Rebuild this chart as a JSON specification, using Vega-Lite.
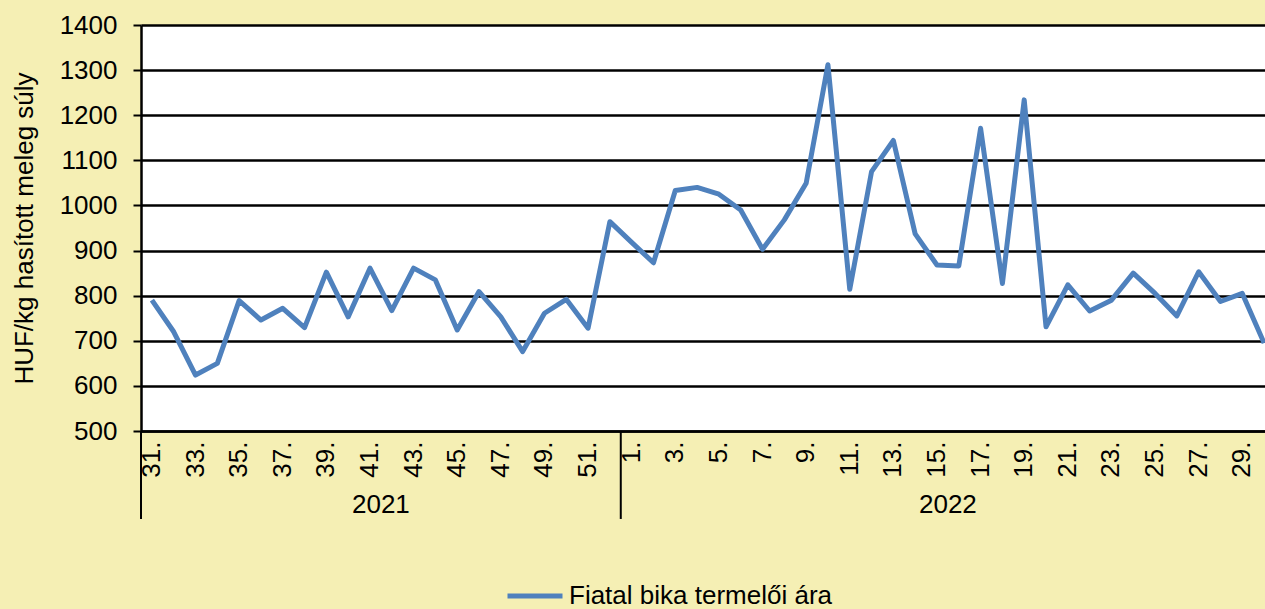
{
  "$schema": "https://vega.github.io/schema/vega-lite/v6.json",
  "width": 1134,
  "height": 406,
  "autosize": {"type": "none"},
  "padding": {"left": 141, "top": 25, "right": 0, "bottom": 178},
  "background": "#F5EFB4",
  "view": {"fill": "white", "stroke": null},
  "config": {
    "font": "Liberation Sans",
    "axis": {"labelFont": "Liberation Sans", "titleFont": "Liberation Sans", "labelColor": "black", "titleColor": "black"}
  },
  "layer": [
    {
      "data": {"values": [
        {"year": 2021, "week": 31, "key": "2021-31", "price": 790},
        {"year": 2021, "week": 32, "key": "2021-32", "price": 720},
        {"year": 2021, "week": 33, "key": "2021-33", "price": 624},
        {"year": 2021, "week": 34, "key": "2021-34", "price": 650},
        {"year": 2021, "week": 35, "key": "2021-35", "price": 789},
        {"year": 2021, "week": 36, "key": "2021-36", "price": 746},
        {"year": 2021, "week": 37, "key": "2021-37", "price": 772},
        {"year": 2021, "week": 38, "key": "2021-38", "price": 729},
        {"year": 2021, "week": 39, "key": "2021-39", "price": 852},
        {"year": 2021, "week": 40, "key": "2021-40", "price": 753},
        {"year": 2021, "week": 41, "key": "2021-41", "price": 861},
        {"year": 2021, "week": 42, "key": "2021-42", "price": 767},
        {"year": 2021, "week": 43, "key": "2021-43", "price": 861},
        {"year": 2021, "week": 44, "key": "2021-44", "price": 835},
        {"year": 2021, "week": 45, "key": "2021-45", "price": 724},
        {"year": 2021, "week": 46, "key": "2021-46", "price": 809},
        {"year": 2021, "week": 47, "key": "2021-47", "price": 753},
        {"year": 2021, "week": 48, "key": "2021-48", "price": 676},
        {"year": 2021, "week": 49, "key": "2021-49", "price": 761},
        {"year": 2021, "week": 50, "key": "2021-50", "price": 792},
        {"year": 2021, "week": 51, "key": "2021-51", "price": 728},
        {"year": 2021, "week": 52, "key": "2021-52", "price": 964},
        {"year": 2022, "week": 1, "key": "2022-01", "price": 918},
        {"year": 2022, "week": 2, "key": "2022-02", "price": 873},
        {"year": 2022, "week": 3, "key": "2022-03", "price": 1033},
        {"year": 2022, "week": 4, "key": "2022-04", "price": 1040},
        {"year": 2022, "week": 5, "key": "2022-05", "price": 1025},
        {"year": 2022, "week": 6, "key": "2022-06", "price": 990},
        {"year": 2022, "week": 7, "key": "2022-07", "price": 903},
        {"year": 2022, "week": 8, "key": "2022-08", "price": 968},
        {"year": 2022, "week": 9, "key": "2022-09", "price": 1049},
        {"year": 2022, "week": 10, "key": "2022-10", "price": 1312},
        {"year": 2022, "week": 11, "key": "2022-11", "price": 814},
        {"year": 2022, "week": 12, "key": "2022-12", "price": 1075},
        {"year": 2022, "week": 13, "key": "2022-13", "price": 1144},
        {"year": 2022, "week": 14, "key": "2022-14", "price": 937},
        {"year": 2022, "week": 15, "key": "2022-15", "price": 868},
        {"year": 2022, "week": 16, "key": "2022-16", "price": 866},
        {"year": 2022, "week": 17, "key": "2022-17", "price": 1171},
        {"year": 2022, "week": 18, "key": "2022-18", "price": 827},
        {"year": 2022, "week": 19, "key": "2022-19", "price": 1234},
        {"year": 2022, "week": 20, "key": "2022-20", "price": 731},
        {"year": 2022, "week": 21, "key": "2022-21", "price": 824},
        {"year": 2022, "week": 22, "key": "2022-22", "price": 766},
        {"year": 2022, "week": 23, "key": "2022-23", "price": 790},
        {"year": 2022, "week": 24, "key": "2022-24", "price": 850},
        {"year": 2022, "week": 25, "key": "2022-25", "price": 805},
        {"year": 2022, "week": 26, "key": "2022-26", "price": 755},
        {"year": 2022, "week": 27, "key": "2022-27", "price": 853},
        {"year": 2022, "week": 28, "key": "2022-28", "price": 787},
        {"year": 2022, "week": 29, "key": "2022-29", "price": 805},
        {"year": 2022, "week": 30, "key": "2022-30", "price": 695}
      ]},
      "mark": {"type": "line", "strokeWidth": 5, "strokeJoin": "round"},
      "encoding": {
        "x": {
          "field": "key", "type": "ordinal",
          "scale": {"type": "band", "paddingInner": 0, "paddingOuter": 0},
          "axis": {
            "title": null,
            "labelAngle": 270,
            "labelFontSize": 26,
            "labelOverlap": false,
            "labelExpr": "toNumber(slice(datum.value, 5)) % 2 === 1 ? toNumber(slice(datum.value, 5)) + '.' : ''",
            "labelPadding": 10,
            "ticks": false,
            "domainColor": "black",
            "domainWidth": 2.5,
            "grid": false
          }
        },
        "y": {
          "field": "price", "type": "quantitative",
          "scale": {"domain": [500, 1400], "zero": false, "nice": false},
          "axis": {
            "title": "HUF/kg hasított meleg súly",
            "titleFontSize": 26,
            "titleFontWeight": "normal",
            "titlePadding": 22,
            "values": [500, 600, 700, 800, 900, 1000, 1100, 1200, 1300, 1400],
            "format": "d",
            "labelFontSize": 26,
            "labelPadding": 16,
            "tickSize": 8,
            "tickWidth": 2,
            "tickColor": "black",
            "domainColor": "black",
            "domainWidth": 2.5,
            "grid": true,
            "gridColor": "black",
            "gridWidth": 2.5,
            "gridOpacity": 1
          }
        },
        "color": {
          "datum": "Fiatal bika termelői ára",
          "scale": {"range": ["#4F81BD"]},
          "legend": {
            "title": null,
            "orient": "none",
            "legendX": 364,
            "legendY": 541,
            "symbolType": "stroke",
            "symbolSize": 3025,
            "symbolStrokeWidth": 5,
            "labelFontSize": 26,
            "labelFont": "Liberation Sans",
            "labelColor": "black",
            "labelOffset": 4,
            "labelLimit": 500
          }
        }
      }
    },
    {
      "data": {"values": [
        {"key": "2021-31"},
        {"key": "2022-01"}
      ]},
      "mark": {"type": "rule", "color": "black", "strokeWidth": 2},
      "encoding": {
        "x": {"field": "key", "type": "ordinal", "bandPosition": 0},
        "y": {"datum": 500},
        "y2": {"datum": 305}
      }
    },
    {
      "data": {"values": [
        {"year": "2021", "mid": "2021-42"},
        {"year": "2022", "mid": "2022-16"}
      ]},
      "mark": {"type": "text", "fontSize": 26, "font": "Liberation Sans", "color": "black", "baseline": "alphabetic", "align": "center"},
      "encoding": {
        "x": {"field": "mid", "type": "ordinal", "bandPosition": 0},
        "y": {"datum": 318},
        "text": {"field": "year"}
      }
    }
  ]
}
